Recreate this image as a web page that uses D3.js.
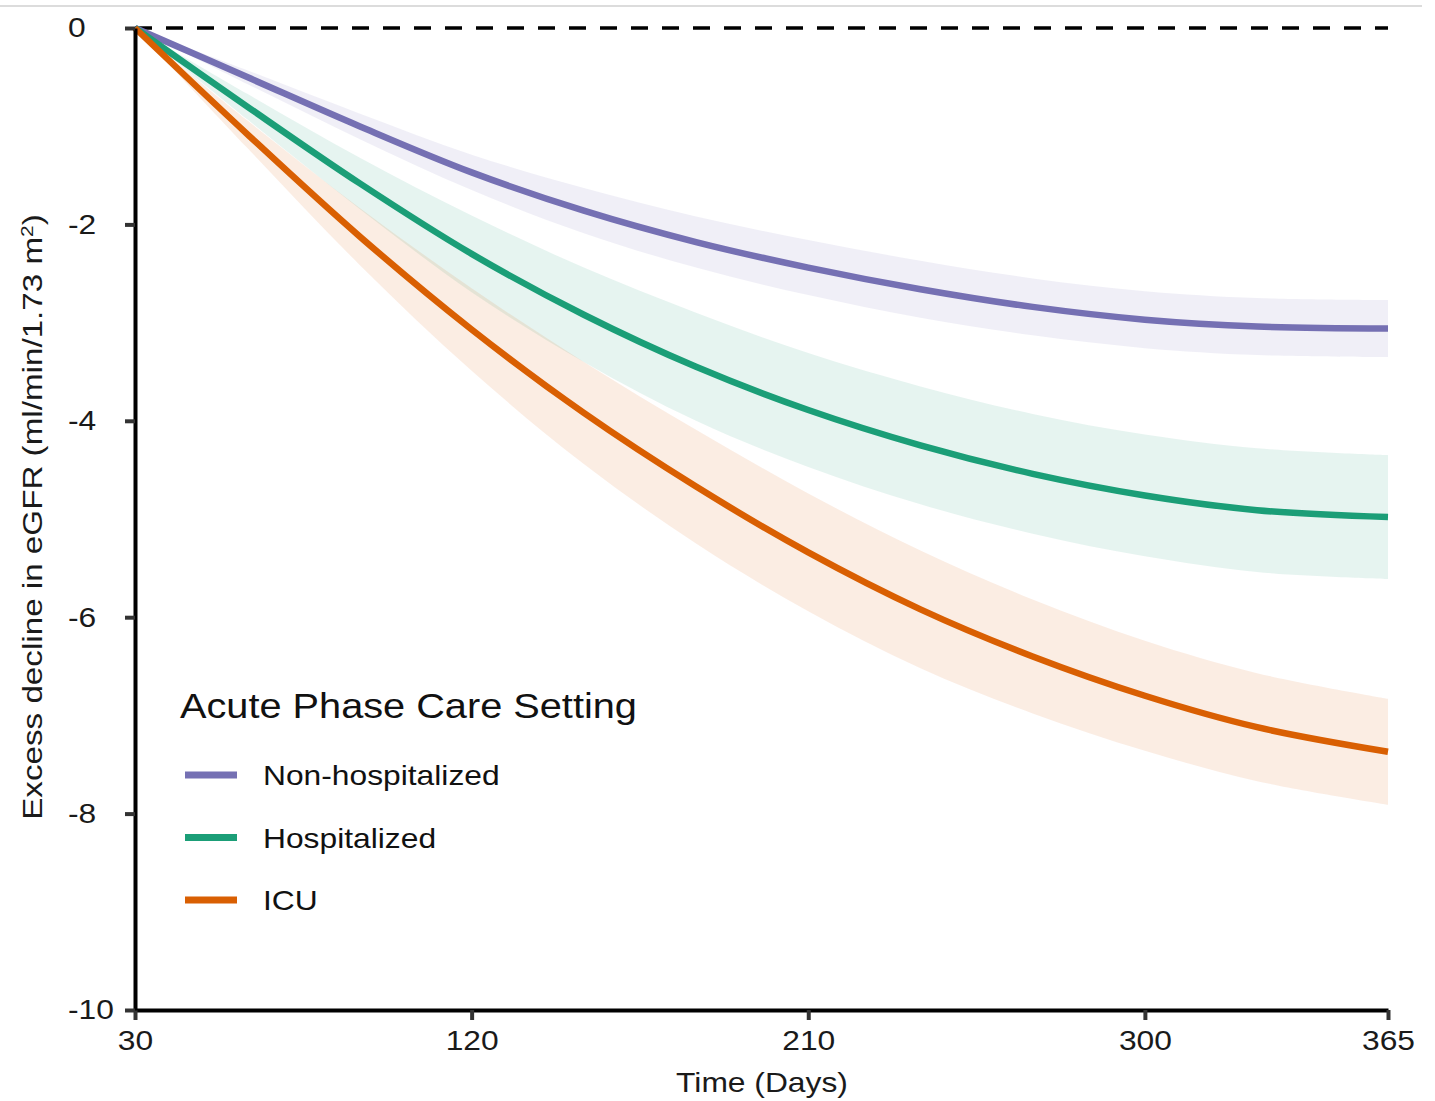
<!DOCTYPE html>
<html>
<head>
<meta charset="utf-8">
<script src="https://cdn.jsdelivr.net/npm/d3@7"></script>
<style>
  body { margin: 0; background: #fff; }
  text { font-family: "Liberation Sans", Arial, sans-serif; }
</style>
</head>
<body>
<div id="chart"></div>
<script>
// days after infection
const days = [30, 60, 90, 120, 150, 180, 210, 240, 270, 300, 330, 365];

// excess eGFR decline, mean curve + confidence band
const nonHospMean  = [0, -0.50, -1.00, -1.47, -1.86, -2.18, -2.44, -2.66, -2.84, -2.97, -3.04, -3.06];
const nonHospUpper = [0, -0.43, -0.87, -1.29, -1.63, -1.92, -2.16, -2.37, -2.55, -2.68, -2.75, -2.77];
const nonHospLower = [0, -0.57, -1.13, -1.65, -2.09, -2.44, -2.72, -2.95, -3.13, -3.26, -3.33, -3.35];

const hospMean  = [0, -0.80, -1.58, -2.30, -2.92, -3.45, -3.89, -4.25, -4.54, -4.76, -4.91, -4.98];
const hospUpper = [0, -0.67, -1.32, -1.91, -2.44, -2.90, -3.31, -3.65, -3.93, -4.14, -4.28, -4.35];
const hospLower = [0, -0.93, -1.84, -2.69, -3.40, -4.00, -4.47, -4.85, -5.15, -5.38, -5.54, -5.61];

const icuMean  = [0, -1.08, -2.12, -3.07, -3.92, -4.67, -5.34, -5.92, -6.40, -6.80, -7.12, -7.37];
const icuUpper = [0, -0.94, -1.83, -2.65, -3.40, -4.09, -4.74, -5.32, -5.82, -6.24, -6.57, -6.83];
const icuLower = [0, -1.22, -2.41, -3.49, -4.44, -5.25, -5.94, -6.52, -6.98, -7.36, -7.67, -7.91];

const groupNames = ["Non-hospitalized", "Hospitalized", "ICU"];
const xTicks = [30, 120, 210, 300, 365];
const yTicks = [0, -2, -4, -6, -8, -10];

const colors = ["#7570b3", "#1b9e77", "#d95f02"];

const series = [
    { name: groupNames[0], mean: nonHospMean, upper: nonHospUpper, lower: nonHospLower },
    { name: groupNames[1], mean: hospMean, upper: hospUpper, lower: hospLower },
    { name: groupNames[2], mean: icuMean, upper: icuUpper, lower: icuLower }
];

const W = 1435, H = 1101;
const margin = { top: 28, right: 47, bottom: 91, left: 135 };
const width = W - margin.left - margin.right;
const height = H - margin.top - margin.bottom;
const stretch = 1.135; // text in the original is a bit wide

const svg = d3.select("#chart").append("svg")
    .attr("width", W)
    .attr("height", H);

// faint rule across the top of the page
svg.append("line")
    .attr("x1", 0).attr("x2", 1422)
    .attr("y1", 6).attr("y2", 6)
    .attr("stroke", "#dcdcdc")
    .attr("stroke-width", 2);

const g = svg.append("g")
    .attr("transform", `translate(${margin.left},${margin.top})`);

const x = d3.scaleLinear().domain([30, 365]).range([0, width]);
const y = d3.scaleLinear().domain([-10, 0]).range([height, 0]);
const color = d3.scaleOrdinal().domain(groupNames).range(colors);

const area = d3.area()
    .x(d => x(d.day))
    .y0(d => y(d.lo))
    .y1(d => y(d.hi))
    .curve(d3.curveCatmullRom.alpha(0.5));

const line = d3.line()
    .x(d => x(d.day))
    .y(d => y(d.v))
    .curve(d3.curveCatmullRom.alpha(0.5));

// bands first
series.forEach(s => {
    const pts = days.map((d, i) => ({ day: d, lo: s.lower[i], hi: s.upper[i] }));
    g.append("path")
        .attr("d", area(pts))
        .attr("fill", color(s.name))
        .attr("fill-opacity", 0.11);
});

// reference line at zero
g.append("line")
    .attr("x1", x(30)).attr("x2", x(365))
    .attr("y1", y(0)).attr("y2", y(0))
    .attr("stroke", "#000")
    .attr("stroke-width", 3.5)
    .attr("stroke-dasharray", "17 14");

series.forEach(s => {
    const pts = days.map((d, i) => ({ day: d, v: s.mean[i] }));
    g.append("path")
        .attr("d", line(pts))
        .attr("fill", "none")
        .attr("stroke", color(s.name))
        .attr("stroke-width", 6.5)
        .attr("stroke-linecap", "butt");
});

// axes
const xAxis = g.append("g")
    .attr("transform", `translate(0,${height})`)
    .call(d3.axisBottom(x).tickValues(xTicks).tickFormat(d => String(d))
        .tickSize(10).tickSizeOuter(0).tickPadding(10));
const yAxis = g.append("g")
    .call(d3.axisLeft(y).tickValues(yTicks).tickFormat(d => String(d))
        .tickSize(10).tickSizeOuter(0));

[xAxis, yAxis].forEach(ax => {
    ax.select(".domain").attr("stroke", "#000").attr("stroke-width", 4);
    ax.selectAll(".tick line").attr("stroke", "#333").attr("stroke-width", 4);
    ax.selectAll(".tick text")
        .attr("font-size", 28)
        .attr("fill", "#1a1a1a")
        .style("font-family", "'Liberation Sans', Arial, sans-serif");
});
xAxis.selectAll(".tick text").attr("transform", `scale(${stretch},1)`);
// y labels sit left-aligned in the original
yAxis.selectAll(".tick text")
    .attr("x", 0)
    .attr("text-anchor", "start")
    .attr("transform", `translate(${68 - margin.left},0) scale(${stretch},1)`);

// axis titles
g.append("text")
    .attr("transform", `translate(${762 - margin.left},${height + 82}) scale(${stretch},1)`)
    .attr("text-anchor", "middle")
    .attr("font-size", 28)
    .attr("fill", "#1a1a1a")
    .text("Time (Days)");

const yLab = g.append("text")
    .attr("transform", `translate(${-93},${517 - margin.top}) scale(1,1.23) rotate(-90)`)
    .attr("text-anchor", "middle")
    .attr("font-size", 27)
    .attr("fill", "#1a1a1a");
yLab.append("tspan").text("Excess decline in eGFR (ml/min/1.73 m");
yLab.append("tspan").attr("baseline-shift", "super").attr("font-size", 17).text("2");
yLab.append("tspan").text(")");

// legend
const legend = g.append("g")
    .attr("transform", `translate(${180 - margin.left},${0})`);

legend.append("text")
    .attr("transform", `translate(0,${718 - margin.top}) scale(${stretch},1)`)
    .attr("font-size", 35)
    .attr("fill", "#111")
    .text("Acute Phase Care Setting");

groupNames.forEach((name, i) => {
    const row = legend.append("g")
        .attr("transform", `translate(0,${775 - margin.top + i * 62.5})`);
    row.append("line")
        .attr("x1", 5).attr("x2", 57)
        .attr("y1", 0).attr("y2", 0)
        .attr("stroke", color(name))
        .attr("stroke-width", 7);
    row.append("text")
        .attr("transform", `translate(83,10) scale(${stretch},1)`)
        .attr("font-size", 28)
        .attr("fill", "#111")
        .text(name);
});
</script>
</body>
</html>
